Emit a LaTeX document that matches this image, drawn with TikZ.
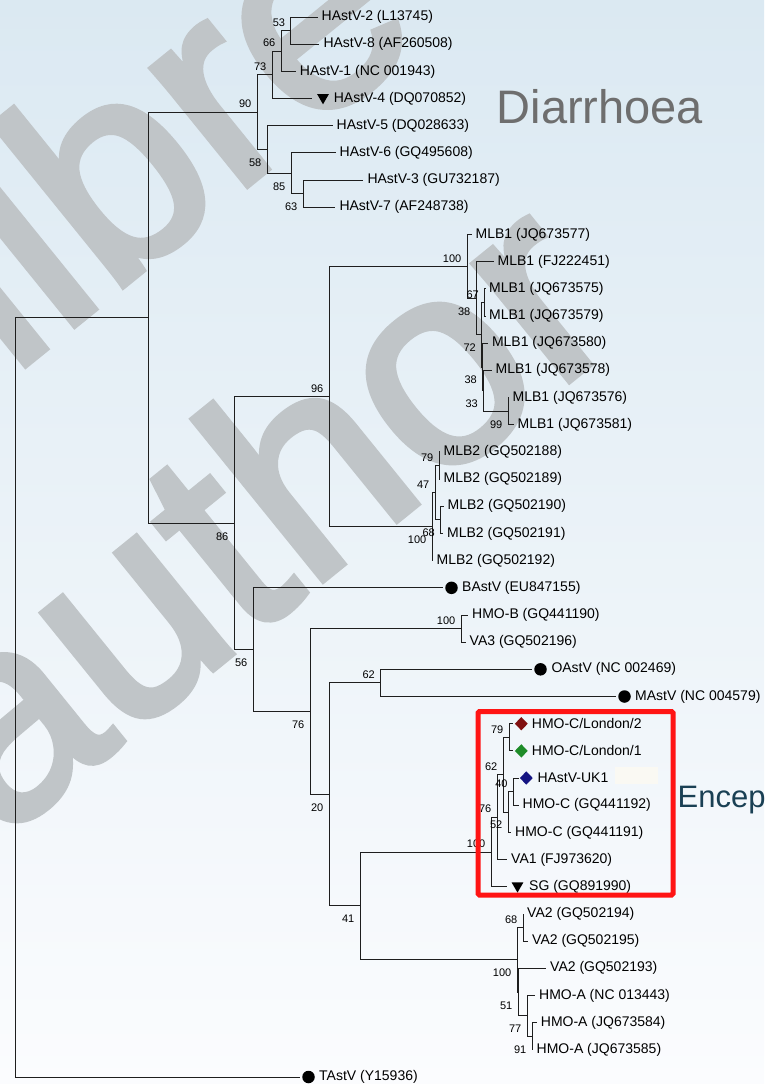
\documentclass[tikz,border=0pt]{standalone}
\usepackage{fontspec}
\setmainfont{Liberation Sans}
\newfontfamily\wmfont{Liberation Sans}[FakeBold=2.5]
\usetikzlibrary{shapes.geometric}

\definecolor{bgtop}{RGB}{219,233,242}
\definecolor{bgbot}{RGB}{251,252,254}
\definecolor{wmgrey}{RGB}{192,197,200}
\definecolor{dgrey}{RGB}{110,110,110}
\definecolor{enc}{RGB}{26,64,84}
\definecolor{boxred}{RGB}{255,20,20}
\definecolor{ldn2}{RGB}{128,16,16}
\definecolor{ldn1}{RGB}{30,140,40}
\definecolor{ukone}{RGB}{20,20,130}
\definecolor{beige}{RGB}{250,249,243}
\definecolor{treeline}{RGB}{30,30,30}

\begin{document}
\begin{tikzpicture}[x=1pt,y=-1pt,
  branch/.style={draw=treeline, line width=0.9pt},
  leaf/.style={anchor=west, inner xsep=4pt, inner ysep=0pt, font=\fontsize{14}{16}\selectfont},
  boot/.style={anchor=east, inner sep=0pt, font=\fontsize{11}{12}\selectfont},
  bup/.style={boot, xshift=-5.5pt, yshift=8pt},
  bdn/.style={boot, xshift=-5.5pt, yshift=-13.2pt},
  dot/.style={circle, fill=black, inner sep=0pt, minimum size=12.5pt},
  tri/.style={regular polygon, regular polygon sides=3, shape border rotate=180,
              fill=black, inner sep=0pt, minimum size=13.6pt},
  gem/.style={diamond, inner sep=0pt, minimum width=13pt, minimum height=13.5pt},
  wm/.style={text=wmgrey, inner sep=0pt, font=\wmfont\fontsize{285}{285}\selectfont},
]
\useasboundingbox (0,0) rectangle (764,1084);
\clip (0,0) rectangle (764,1084);

% background
\shade[top color=bgtop, bottom color=bgbot] (0,0) rectangle (764,1084);

% watermark
\node[wm, rotate=39] (wmA) at (156,128) {libre};
\node[wm, rotate=39] (wmB) at (250,508) {author};

% group captions
\node[anchor=base west, inner sep=0pt, text=dgrey, font=\fontsize{47}{47}\selectfont] (diar) at (496.5,123) {Diarrhoea};
\node[anchor=base west, inner sep=0pt, text=enc, font=\fontsize{31}{31}\selectfont] (encp) at (677.5,807.5) {Encephalitis};
\fill[beige] (615,767) rectangle (658,784);

% ---------- internal nodes ----------
\coordinate (root)  at (15,697.35);
\coordinate (n148)  at (148,317.7);
\coordinate (n90)   at (257,112.2);
\coordinate (n73)   at (272,74.8);
\coordinate (n66)   at (281,51.0);
\coordinate (n53)   at (290.7,30.6);
\coordinate (n58)   at (267,149.5);
\coordinate (n85)   at (291,173.3);
\coordinate (n63)   at (303,193.7);
\coordinate (n86)   at (234,523.1);
\coordinate (n96)   at (329,396.5);
\coordinate (n100a) at (467,266.3);
\coordinate (n38a)  at (476,298.2);
\coordinate (n72)   at (481.5,334.7);
\coordinate (n67)   at (484.5,302.4);
\coordinate (n38b)  at (482.5,367.0);
\coordinate (n33)   at (483.5,390.7);
\coordinate (n99)   at (508,411.1);
\coordinate (n100b) at (432,526.6);
\coordinate (n47)   at (435,492.7);
\coordinate (n79a)  at (439,465.5);
\coordinate (n68a)  at (440.5,519.8);
\coordinate (n56)   at (253,649.7);
\coordinate (n76a)  at (310,711.5);
\coordinate (n100c) at (461,628.6);
\coordinate (n20)   at (329,794.4);
\coordinate (n62a)  at (380.5,682.9);
\coordinate (n41)   at (360,905.9);
\coordinate (n100d) at (491,852.0);
\coordinate (n76b)  at (497,817.2);
\coordinate (n62b)  at (503,774.7);
\coordinate (n79b)  at (509,737.3);
\coordinate (n52)   at (508,812.0);
\coordinate (n40)   at (513.3,791.6);
\coordinate (n100e) at (517,959.8);
\coordinate (n68b)  at (523,927.5);
\coordinate (n51)   at (518,992.1);
\coordinate (n77)   at (527,1015.9);
\coordinate (n91)   at (532,1036.3);

% ---------- taxa ----------
\node[leaf] (l0)  at (317.5,17.0)  {HAstV-2 (L13745)};
\node[leaf] (l1)  at (319.3,44.2)  {HAstV-8 (AF260508)};
\node[leaf] (l2)  at (295.7,71.4)  {HAstV-1 (NC 001943)};
\node[tri]  (m3)  at (323,97.5) {};
\node[leaf] (l3)  at (329.6,98.5)  {HAstV-4 (DQ070852)};
\node[leaf] (l4)  at (332.5,125.7) {HAstV-5 (DQ028633)};
\node[leaf] (l5)  at (335.5,152.9) {HAstV-6 (GQ495608)};
\node[leaf] (l6)  at (363.3,180.1) {HAstV-3 (GU732187)};
\node[leaf] (l7)  at (335.3,207.3) {HAstV-7 (AF248738)};
\node[leaf] (l8)  at (471.5,234.4) {MLB1 (JQ673577)};
\node[leaf] (l9)  at (493.5,261.6) {MLB1 (FJ222451)};
\node[leaf] (l10) at (485,288.8)   {MLB1 (JQ673575)};
\node[leaf] (l11) at (485,316.0)   {MLB1 (JQ673579)};
\node[leaf] (l12) at (487.8,343.2) {MLB1 (JQ673580)};
\node[leaf] (l13) at (491.5,370.3) {MLB1 (JQ673578)};
\node[leaf] (l14) at (508.5,397.5) {MLB1 (JQ673576)};
\node[leaf] (l15) at (513.5,424.7) {MLB1 (JQ673581)};
\node[leaf] (l16) at (439.5,451.9) {MLB2 (GQ502188)};
\node[leaf] (l17) at (439.5,479.1) {MLB2 (GQ502189)};
\node[leaf] (l18) at (443.5,506.2) {MLB2 (GQ502190)};
\node[leaf] (l19) at (443,533.4)   {MLB2 (GQ502191)};
\node[leaf] (l20) at (432.5,560.6) {MLB2 (GQ502192)};
\node[dot]  (m21) at (451.5,587.8) {};
\node[leaf] (l21) at (458,587.8)   {BAstV (EU847155)};
\node[leaf] (l22) at (468,615.0)   {HMO-B (GQ441190)};
\node[leaf] (l23) at (465.5,642.1) {VA3 (GQ502196)};
\node[dot]  (m24) at (540.5,669.3) {};
\node[leaf] (l24) at (547.3,669.3) {OAstV (NC 002469)};
\node[dot]  (m25) at (624.5,696.5) {};
\node[leaf] (l25) at (631,696.5)   {MAstV (NC 004579)};
\node[gem, fill=ldn2]  (m26) at (521.3,723.7) {};
\node[leaf] (l26) at (527.7,723.7) {HMO-C/London/2};
\node[gem, fill=ldn1]  (m27) at (521.3,750.9) {};
\node[leaf] (l27) at (527.7,750.9) {HMO-C/London/1};
\node[gem, fill=ukone] (m28) at (526.3,778.0) {};
\node[leaf] (l28) at (533.3,778.0) {HAstV-UK1};
\node[leaf] (l29) at (518.5,805.2) {HMO-C (GQ441192)};
\node[leaf] (l30) at (511,832.4)   {HMO-C (GQ441191)};
\node[leaf] (l31) at (507,859.6)   {VA1 (FJ973620)};
\node[tri]  (m32) at (517.5,885.8) {};
\node[leaf] (l32) at (525,886.8)   {SG (GQ891990)};
\node[leaf] (l33) at (523,913.9)   {VA2 (GQ502194)};
\node[leaf] (l34) at (528,941.1)   {VA2 (GQ502195)};
\node[leaf] (l35) at (546,968.3)   {VA2 (GQ502193)};
\node[leaf] (l36) at (535,995.5)   {HMO-A (NC 013443)};
\node[leaf] (l37) at (536.7,1022.7) {HMO-A (JQ673584)};
\node[leaf] (l38) at (532.5,1049.8) {HMO-A (JQ673585)};
\node[dot]  (m39) at (308.5,1077.0) {};
\node[leaf] (l39) at (315,1077.0)  {TAstV (Y15936)};

% ---------- branches ----------
\draw[branch] (root) |- (n148);
\draw[branch, shorten >=2.5pt] (root) |- (m39.west);
\draw[branch] (n148) |- (n90);   \draw[branch] (n148) |- (n86);
\draw[branch] (n90) |- (n73);    \draw[branch] (n90) |- (n58);
\draw[branch] (n73) |- (n66);    \draw[branch, shorten >=6.5pt] (n73) |- ([yshift=-1pt]m3.west);
\draw[branch] (n66) |- (n53);    \draw[branch] (n66) |- (l2.west);
\draw[branch] (n53) |- (l0.west); \draw[branch] (n53) |- (l1.west);
\draw[branch] (n58) |- (l4.west); \draw[branch] (n58) |- (n85);
\draw[branch] (n85) |- (l5.west); \draw[branch] (n85) |- (n63);
\draw[branch] (n63) |- (l6.west); \draw[branch] (n63) |- (l7.west);
\draw[branch] (n86) |- (n96);    \draw[branch] (n86) |- (n56);
\draw[branch] (n96) |- (n100a);  \draw[branch] (n96) |- (n100b);
\draw[branch] (n100a) |- (l8.west); \draw[branch] (n100a) |- (n38a);
\draw[branch] (n38a) |- (l9.west);  \draw[branch] (n38a) |- (n72);
\draw[branch] (n72) |- (n67);    \draw[branch] (n72) |- (n38b);
\draw[branch] (n67) |- (l10.west); \draw[branch] (n67) |- (l11.west);
\draw[branch] (n38b) |- (l12.west); \draw[branch] (n38b) |- (n33);
\draw[branch] (n33) |- (l13.west);  \draw[branch] (n33) |- (n99);
\draw[branch] (n99) |- (l14.west);  \draw[branch] (n99) |- (l15.west);
\draw[branch] (n100b) |- (n47);  \draw[branch] (n100b) |- (l20.west);
\draw[branch] (n47) |- (n79a);   \draw[branch] (n47) |- (n68a);
\draw[branch] (n79a) |- (l16.west); \draw[branch] (n79a) |- (l17.west);
\draw[branch] (n68a) |- (l18.west); \draw[branch] (n68a) |- (l19.west);
\draw[branch, shorten >=2.2pt] (n56) |- (m21.west); \draw[branch] (n56) |- (n76a);
\draw[branch] (n76a) |- (n100c); \draw[branch] (n76a) |- (n20);
\draw[branch] (n100c) |- (l22.west); \draw[branch] (n100c) |- (l23.west);
\draw[branch] (n20) |- (n62a);   \draw[branch] (n20) |- (n41);
\draw[branch, shorten >=2.5pt] (n62a) |- (m24.west);
\draw[branch, shorten >=2.2pt] (n62a) |- (m25.west);
\draw[branch] (n41) |- (n100d);  \draw[branch] (n41) |- (n100e);
\draw[branch] (n100d) |- (n76b); \draw[branch, shorten >=6.8pt] (n100d) |- ([yshift=-1pt]m32.west);
\draw[branch] (n76b) |- (n62b);  \draw[branch] (n76b) |- (l31.west);
\draw[branch] (n62b) |- (n79b);  \draw[branch] (n62b) |- (n52);
\draw[branch, shorten >=1.8pt] (n79b) |- (m26.west);
\draw[branch, shorten >=1.8pt] (n79b) |- (m27.west);
\draw[branch] (n52) |- (n40);    \draw[branch] (n52) |- (l30.west);
\draw[branch, shorten >=0.5pt] (n40) |- (m28.west);
\draw[branch] (n40) |- (l29.west);
\draw[branch] (n100e) |- (n68b); \draw[branch] (n100e) |- (n51);
\draw[branch] (n68b) |- (l33.west); \draw[branch] (n68b) |- (l34.west);
\draw[branch] (n51) |- (l35.west);  \draw[branch] (n51) |- (n77);
\draw[branch] (n77) |- (l36.west);  \draw[branch] (n77) |- (n91);
\draw[branch] (n91) |- (l37.west);  \draw[branch] (n91) |- (l38.west);

% ---------- bootstrap support ----------
\node[bup] at (n53) {53};   \node[bup] at (n66) {66};
\node[bup] at (n73) {73};   \node[bup] at (n90) {90};
\node[bdn] at (n58) {58};   \node[bdn] at (n85) {85};
\node[bdn] at (n63) {63};   \node[bdn] at (n86) {86};
\node[bup] at (n96) {96};   \node[bup] at (n100a) {100};
\node[bdn] at (n38a) {38};  \node[bdn] at (n72) {72};
\node[bup] at (n67) {67};   \node[bdn] at (n38b) {38};
\node[bdn] at (n33) {33};   \node[bdn] at (n99) {99};
\node[bdn] at (n100b) {100}; \node[bup] at (n47) {47};
\node[bup] at (n79a) {79};  \node[bdn] at (n68a) {68};
\node[bdn] at (n56) {56};   \node[bdn] at (n76a) {76};
\node[bup] at (n100c) {100}; \node[bdn] at (n20) {20};
\node[bup] at (n62a) {62};  \node[bdn] at (n41) {41};
\node[bup] at (n100d) {100}; \node[bup] at (n76b) {76};
\node[bup] at (n62b) {62};  \node[bup] at (n79b) {79};
\node[bdn] at (n52) {52};   \node[bup] at (n40) {40};
\node[bdn] at (n100e) {100}; \node[bup] at (n68b) {68};
\node[bdn] at (n51) {51};   \node[bdn] at (n77) {77};
\node[bdn] at (n91) {91};

% encephalitis clade frame
\draw[line width=5pt, draw=boxred, rounded corners=1.5pt] (478,711.5) rectangle (673,895);
\end{tikzpicture}
\end{document}
